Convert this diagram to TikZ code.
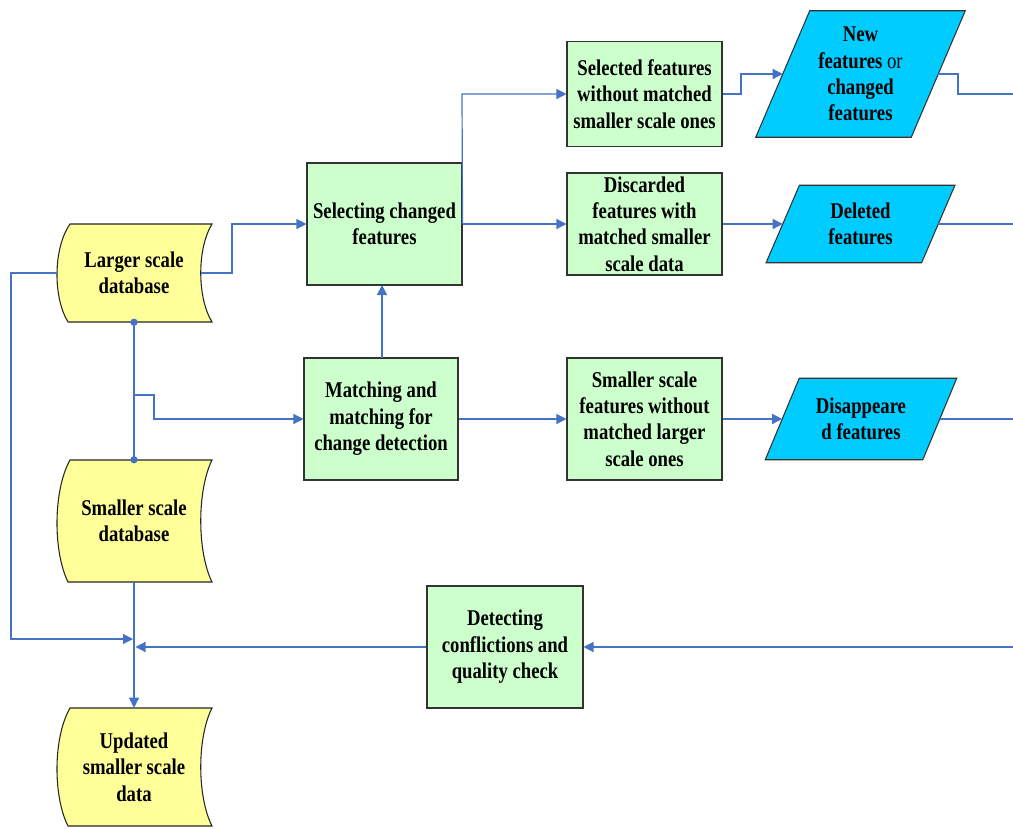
\documentclass[tikz,border=0pt]{standalone}
\usepackage{fontspec}
\setmainfont[FakeStretch=0.83]{Liberation Serif}
\usetikzlibrary{arrows.meta}
\definecolor{connc}{RGB}{68,114,196}
\definecolor{boxg}{RGB}{204,255,204}
\definecolor{dby}{RGB}{255,255,153}
\definecolor{parac}{RGB}{0,204,255}
\begin{document}
\begin{tikzpicture}[x=0.75pt,y=-0.75pt,
  conn/.style={draw=connc, line width=0.9pt},
  arr/.style={conn, -{Triangle[length=7.5pt,width=7.5pt]}},
  txt/.style={font=\fontsize{16.9pt}{19.8pt}\selectfont\bfseries, align=center, inner sep=0pt},
  procbox/.style={txt, draw=black!80, fill=boxg, line width=0.8pt},
  dbshape/.style={draw=black!85, fill=dby, line width=0.8pt},
  parashape/.style={draw=black!80, fill=parac, line width=0.8pt},
  dot/.style={circle, fill=connc, inner sep=0pt, minimum size=5.5pt}
]
\useasboundingbox (0,0) rectangle (1013,828);

% database shapes
\draw[dbshape] (70,224) -- (212,224) .. controls (197,248.5) and (197,297.5) .. (212,322) -- (68,322) .. controls (53,297.5) and (53,248.5) .. (70,224) -- cycle;
\draw[dbshape] (70,460) -- (212,460) .. controls (197,490.5) and (197,551.5) .. (212,582) -- (68,582) .. controls (53,551.5) and (53,490.5) .. (70,460) -- cycle;
\draw[dbshape] (70,708) -- (212,708) .. controls (197,737.5) and (197,796.5) .. (212,826) -- (68,826) .. controls (53,796.5) and (53,737.5) .. (70,708) -- cycle;
\node[txt, minimum height=73.5pt] (ldb) at (134,273) {Larger scale\\database};
\node[txt, minimum height=91.5pt] (sdb) at (134,521) {Smaller scale\\database};
\node[txt, minimum height=88.5pt] (udb) at (134,767) {Updated\\smaller scale\\data};
\coordinate (ldbW) at (57,273);
\coordinate (ldbE) at (201,273);

% process boxes
\node[procbox, minimum width=116.25pt, minimum height=91.5pt] (sel) at (384.5,224) {Selecting changed\\features};
\node[procbox, minimum width=115.5pt, minimum height=91.5pt] (mat) at (381,419) {Matching and\\matching for\\change detection};
\node[procbox, minimum width=116.25pt, minimum height=78.75pt] (sfw) at (644.5,94) {Selected features\\without matched\\smaller scale ones};
\node[procbox, minimum width=116.25pt, minimum height=76.5pt] (dis) at (644.5,224) {Discarded\\features with\\matched smaller\\scale data};
\node[procbox, minimum width=116.25pt, minimum height=91.5pt] (sms) at (644.5,419) {Smaller scale\\features without\\matched larger\\scale ones};
\node[procbox, minimum width=117pt, minimum height=91.5pt] (det) at (505,647) {Detecting\\conflictions and\\quality check};

% parallelograms
\node[txt, minimum width=116.25pt, minimum height=94.5pt] (new) at (860.5,74) {};
\draw[parashape] ([xshift=20.25pt]new.north west) -- ([xshift=20.25pt]new.north east) -- ([xshift=-20.25pt]new.south east) -- ([xshift=-20.25pt]new.south west) -- cycle;
\node[txt, minimum width=116.25pt, minimum height=57.75pt] (del) at (860.5,224) {};
\draw[parashape] ([xshift=12.5pt]del.north west) -- ([xshift=12.5pt]del.north east) -- ([xshift=-12.5pt]del.south east) -- ([xshift=-12.5pt]del.south west) -- cycle;
\node[txt, minimum width=117.75pt, minimum height=60.75pt] (dsp) at (861,419) {};
\draw[parashape] ([xshift=12.75pt]dsp.north west) -- ([xshift=12.75pt]dsp.north east) -- ([xshift=-12.75pt]dsp.south east) -- ([xshift=-12.75pt]dsp.south west) -- cycle;
\node[txt] (newt) at (new.center) {New\\features {\mdseries or}\\changed\\features};
\node[txt] (delt) at (del.center) {Deleted\\features};
\node[txt] (dspt) at (dsp.center) {Disappeare\\d features};

% free ends and bends
\coordinate (rNew) at (1013,94);
\coordinate (rDel) at (1013,224);
\coordinate (rDsp) at (1013,419);
\coordinate (rDet) at (1013,647);
\coordinate (jL) at (133,639);
\coordinate (jR) at (135.5,647);
\coordinate (brL) at (134,395);
\coordinate (matN) at (382,358);
\coordinate (selS) at (382,285);

% connectors
\draw[arr] (ldbE) -- (232,273) |- (sel.west);
\draw[arr] (ldbW) -- (11,273) |- (jL);
\draw[conn] (ldb.south) -- (sdb.north);
\node[dot] (d1) at (ldb.south) {};
\node[dot] (d2) at (sdb.north) {};
\draw[arr] (brL) -- (154,395) |- (mat.west);
\draw[arr] (matN) -- (selS);
\draw[arr] (sel.east) -- (dis.west);
\draw[arr] (sel.east) -- (462,94) -- (sfw.west);
\draw[arr] (sfw.east) -- (741,94) |- (new.west);
\draw[conn] (new.east) -- (958,74) |- (rNew);
\draw[arr] (dis.east) -- (del.west);
\draw[conn] (del.east) -- (rDel);
\draw[arr] (mat.east) -- (sms.west);
\draw[arr] (sms.east) -- (dsp.west);
\draw[conn] (dsp.east) -- (rDsp);
\draw[arr] (rDet) -- (det.east);
\draw[arr] (det.west) -- (jR);
\draw[arr] (sdb.south) -- (udb.north);
\end{tikzpicture}
\end{document}
